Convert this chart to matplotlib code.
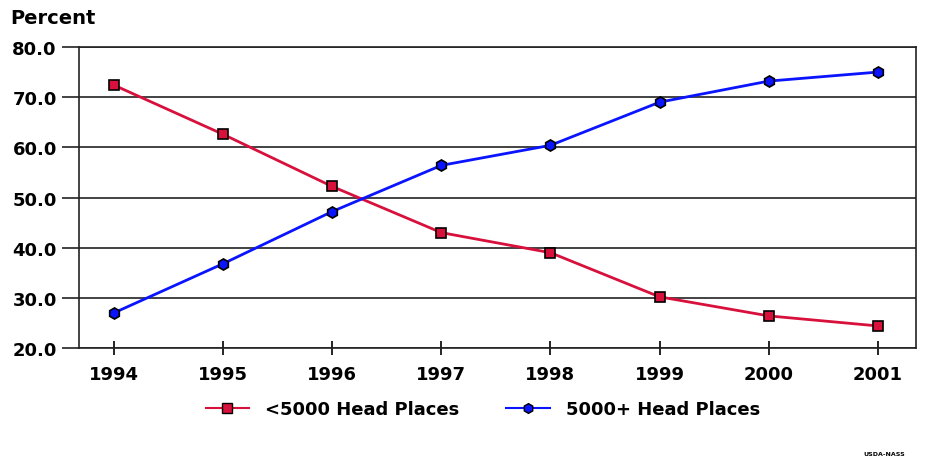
import matplotlib as mpl
import matplotlib.pyplot as plt
from matplotlib.lines import Line2D

mpl.rcParams['font.family'] = ['DejaVu Sans']
mpl.rcParams['font.weight'] = 'bold'

# data
years = [1994, 1995, 1996, 1997, 1998, 1999, 2000, 2001]
small = [72.4, 62.6, 52.2, 43.0, 39.0, 30.2, 26.4, 24.4]
large = [27.0, 36.8, 47.2, 56.4, 60.4, 69.0, 73.2, 75.0]
yticks = [20, 30, 40, 50, 60, 70, 80]

fig = plt.figure(figsize=[9.33, 4.64], dpi=100)
ax = fig.add_axes([79 / 933, 1 - 349 / 464, (916 - 79) / 933, (349 - 48) / 464])

red = "#d8103c"
blue = "#0a14ff"
ax.plot(years, small, color=red, linewidth=2, marker="s", markersize=7.5,
        markerfacecolor=red, markeredgecolor="black", markeredgewidth=1.2, zorder=4)
ax.plot(years, large, color=blue, linewidth=2, marker="h", markersize=8,
        markerfacecolor=blue, markeredgecolor="black", markeredgewidth=1.2, zorder=4)

ax.set_xlim(1993.68, 2001.35)
ax.set_ylim(20, 80)
ax.set_yticks(yticks)
ax.set_yticklabels([f"{v:.1f}" for v in yticks], fontsize=13, fontweight="bold")
ax.set_xticks(years)
ax.set_xticklabels([str(y) for y in years], fontsize=13, fontweight="bold")

ax.grid(axis="y", color="#222222", linewidth=1.2)
ax.tick_params(axis="y", length=12, width=1.2, color="#222222", pad=4)
ax.tick_params(axis="x", direction="inout", length=10, width=1.2, pad=7)
for s in ax.spines.values():
    s.set_linewidth(1.2)
    s.set_color("#222222")

fig.text(10 / 933, 1 - 18 / 464, "Percent", fontsize=14, fontweight="bold", va="center")
fig.text(905 / 933, 1 - 455 / 464, "USDA-NASS", fontsize=4.5, fontweight="bold", ha="right", va="center")

handles = [
    Line2D([], [], color=red, linewidth=1.5, marker="s", markersize=7,
           markerfacecolor=red, markeredgecolor="black"),
    Line2D([], [], color=blue, linewidth=1.5, marker="h", markersize=7,
           markerfacecolor=blue, markeredgecolor="black"),
]
fig.legend(handles, ["<5000 Head Places", "5000+ Head Places"], loc="center",
           bbox_to_anchor=(483 / 933, 1 - 410 / 464), ncol=2, frameon=False,
           fontsize=13, handlelength=2.4, handletextpad=0.9, columnspacing=2.6)

plt.savefig("out.png", dpi=100)
plt.close("all")
